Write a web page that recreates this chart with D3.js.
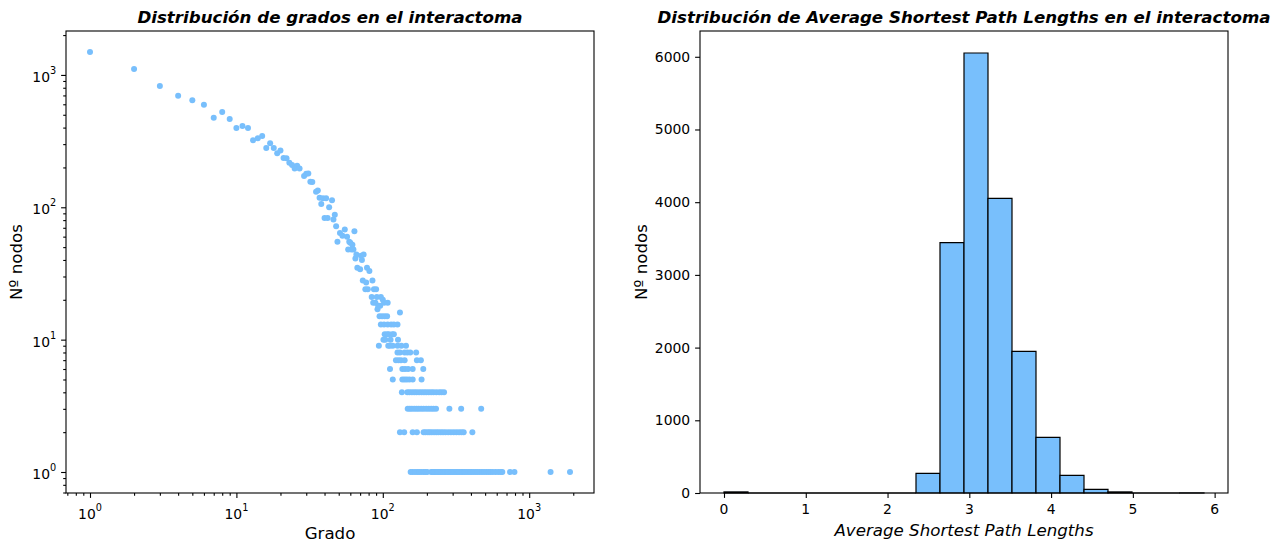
<!DOCTYPE html>
<html><head><meta charset="utf-8">
<script src="https://cdn.jsdelivr.net/npm/d3@7"></script>
<style>body{margin:0;background:#fff} text{font-family:"DejaVu Sans",sans-serif;fill:#000}</style>
</head><body><svg id="c" width="1280" height="552"></svg>
<script>
// ---------- DATA: left panel (degree distribution) ----------
const degMain = [1,2,3,4,5,6,7,8,9,10,11,12,13,14,15,16,17,18,19,20,21,22,23,24,25,26,27,
  29,30,31,32,33,35,36,37,38,39,40,41,42,43,45,46,47,48,49,
  51,53,55,57,58,59,60,61,62,63,64,65,66,67,70,71,72,73,74,76,77,78,79,
  81,84,85,86,87,89,90,91,92,93,96,97,100,102,108];
const cntMain = [1490,1110,825,695,645,595,475,525,465,398,412,398,321,333,346,280,305,280,256,268,236,235,217,209,196,206,196,
  172,179,180,156,155,131,134,118,106,117,83,117,83,100,113,81,88,72,55,
  64,61,68,60,48,55,54,48,52,48,66,41,44,35,34,43,40,28,44,24,27,35,24,
  33,21,28,19,24,19,24,21,17,18,18,21,20,19,19];
// tail: node count -> list of degrees with that count
const tailCounts = [16,15,13,11,10,9,8,7,6,5,4,3,2,1];
const tailDegrees = [
  [131],
  [95,99,103,107],
  [97,102,108,114,119,126],
  [103,107,110,116,119],
  [101,104,113,127],
  [94,109,112,117,126,134,144],
  [126,131,141,147,154,169],
  [123,128,133,141,171,182],
  [112,136,142,149,160,189],
  [117,136,141,146,152,160,184],
  [135,147,152,158,164,170,177,184,191,198,206,214,222,232,243,252,262],
  [148,153,158,164,170,176,183,190,198,206,214,222,231,285,343,470],
  [131,140,160,171,190,196,203,209,216,224,232,240,249,258,268,280,292,305,318,332,345,357,409],
  [155,160,166,172,177,183,190,196,201,214,218,222,226,230,235,240,245,250,256,262,268,275,281,288,295,
   302,310,318,326,335,345,352,362,372,383,395,405,418,432,445,460,476,492,510,528,545,565,590,615,640,655,
   740,793,1400,1900]
];
const logMajorTicks = [1,10,100,1000];

// ---------- DATA: right panel (histogram) ----------
const histRange = [0, 5.87];
const histCounts = [15,0,0,0,0,0,0,0,271,3443,6052,4053,1949,766,243,51,15,0,0,1];
const histXTicks = [0,1,2,3,4,5,6];
const histYTicks = [0,1000,2000,3000,4000,5000,6000];

const titles = ["Distribución de grados en el interactoma",
                "Distribución de Average Shortest Path Lengths en el interactoma"];
const xLabels = ["Grado", "Average Shortest Path Lengths"];
const yLabel = "Nº nodos";

// ---------- drawing ----------
const COLOR = "#78bffc";
const svg = d3.select("#c");
const L = {x0:66, x1:594, y0:31, y1:493};
const R = {x0:700, x1:1228, y0:31, y1:493};
const TICK = 4.9, MINOR = 2.8, PAD = 4.9, FS = 13.9, LFS = 16.67;

const points = degMain.map((d,i)=>({k:d,c:cntMain[i]}));
tailCounts.forEach((c,i)=>tailDegrees[i].forEach(k=>points.push({k:k,c:c})));

function logDomain(vals){
  const lo=Math.log10(d3.min(vals)), hi=Math.log10(d3.max(vals)), m=(hi-lo)*0.05;
  return [10**(lo-m), 10**(hi+m)];
}
function minorTicks(dom){
  const out=[];
  for(let e=Math.floor(Math.log10(dom[0]));e<=Math.ceil(Math.log10(dom[1]));e++)
    for(let m=2;m<=9;m++){const v=m*10**e; if(v>=dom[0]&&v<=dom[1]) out.push(v);}
  return out;
}
const xL = d3.scaleLog().domain(logDomain(points.map(p=>p.k))).range([L.x0,L.x1]);
const yL = d3.scaleLog().domain(logDomain(points.map(p=>p.c))).range([L.y1,L.y0]);

function styleAxis(g){
  g.select(".domain").remove();
  g.selectAll(".tick line").attr("stroke","#000").attr("stroke-width",1.1);
  g.selectAll(".tick text").remove();
}
// left axes ticks
svg.append("g").attr("transform",`translate(0,${L.y1})`)
  .call(d3.axisBottom(xL).tickValues(minorTicks(xL.domain())).tickSize(MINOR).tickFormat("")).call(styleAxis);
svg.append("g").attr("transform",`translate(${L.x0},0)`)
  .call(d3.axisLeft(yL).tickValues(minorTicks(yL.domain())).tickSize(MINOR).tickFormat("")).call(styleAxis);
svg.append("g").attr("transform",`translate(0,${L.y1})`)
  .call(d3.axisBottom(xL).tickValues(logMajorTicks).tickSize(TICK).tickFormat("")).call(styleAxis);
svg.append("g").attr("transform",`translate(${L.x0},0)`)
  .call(d3.axisLeft(yL).tickValues(logMajorTicks).tickSize(TICK).tickFormat("")).call(styleAxis);

function powLabel(parent, x, y, v, anchor){
  const t = parent.append("text").attr("x",x).attr("y",y).attr("text-anchor",anchor).style("font-size",FS+"px");
  t.append("tspan").text("10");
  t.append("tspan").attr("dy",-8).style("font-size",(FS*0.7)+"px").text(String(Math.round(Math.log10(v))));
}
logMajorTicks.forEach(v=>{
  powLabel(svg, xL(v), L.y1+TICK+PAD+16, v, "middle");
  powLabel(svg, L.x0-TICK-PAD, yL(v)+7, v, "end");
});

// scatter
svg.append("g").selectAll("circle").data(points).join("circle")
  .attr("cx",d=>xL(d.k)).attr("cy",d=>yL(d.c)).attr("r",3).attr("fill",COLOR);

// frame
svg.append("rect").attr("x",L.x0).attr("y",L.y0).attr("width",L.x1-L.x0).attr("height",L.y1-L.y0)
  .attr("fill","none").attr("stroke","#000").attr("stroke-width",1.1);

// ---------- right panel ----------
const nb = histCounts.length, bw = (histRange[1]-histRange[0])/nb;
const bins = histCounts.map((c,i)=>({x0:histRange[0]+i*bw, x1:histRange[0]+(i+1)*bw, c:c}));
const span = histRange[1]-histRange[0];
const xR = d3.scaleLinear().domain([histRange[0]-0.05*span, histRange[1]+0.05*span]).range([R.x0,R.x1]);
const yR = d3.scaleLinear().domain([0, d3.max(histCounts)*1.05]).range([R.y1,R.y0]);

svg.append("g").selectAll("path").data(bins).join("path")
  .attr("d",b=>`M${xR(b.x0)},${yR(0)}V${yR(b.c)}H${xR(b.x1)}V${yR(0)}Z`)
  .attr("fill",COLOR).attr("stroke","#000").attr("stroke-width",1.2);

svg.append("g").attr("transform",`translate(0,${R.y1})`)
  .call(d3.axisBottom(xR).tickValues(histXTicks).tickSize(TICK).tickFormat("")).call(styleAxis);
svg.append("g").attr("transform",`translate(${R.x0},0)`)
  .call(d3.axisLeft(yR).tickValues(histYTicks).tickSize(TICK).tickFormat("")).call(styleAxis);
histXTicks.forEach(v=>svg.append("text").attr("x",xR(v)).attr("y",R.y1+TICK+PAD+10.8)
  .attr("text-anchor","middle").style("font-size",FS+"px").text(v));
histYTicks.forEach(v=>svg.append("text").attr("x",R.x0-TICK-PAD).attr("y",yR(v)+5)
  .attr("text-anchor","end").style("font-size",FS+"px").text(v));

svg.append("rect").attr("x",R.x0).attr("y",R.y0).attr("width",R.x1-R.x0).attr("height",R.y1-R.y0)
  .attr("fill","none").attr("stroke","#000").attr("stroke-width",1.1);

// titles & labels
[[L,0],[R,1]].forEach(([A,i])=>{
  svg.append("text").attr("x",(A.x0+A.x1)/2).attr("y",23).attr("text-anchor","middle")
    .style("font-size",LFS+"px").style("font-weight","bold").style("font-style","italic").text(titles[i]);
});
svg.append("text").attr("x",(L.x0+L.x1)/2).attr("y",539).attr("text-anchor","middle")
  .style("font-size",LFS+"px").text(xLabels[0]);
svg.append("text").attr("x",(R.x0+R.x1)/2).attr("y",535.5).attr("text-anchor","middle")
  .style("font-size",LFS+"px").style("font-style","italic").text(xLabels[1]);
svg.append("text").attr("transform",`translate(22,${(L.y0+L.y1)/2}) rotate(-90)`).attr("text-anchor","middle")
  .style("font-size",LFS+"px").text(yLabel);
svg.append("text").attr("transform",`translate(647,${(R.y0+R.y1)/2}) rotate(-90)`).attr("text-anchor","middle")
  .style("font-size",LFS+"px").text(yLabel);
</script></body></html>
